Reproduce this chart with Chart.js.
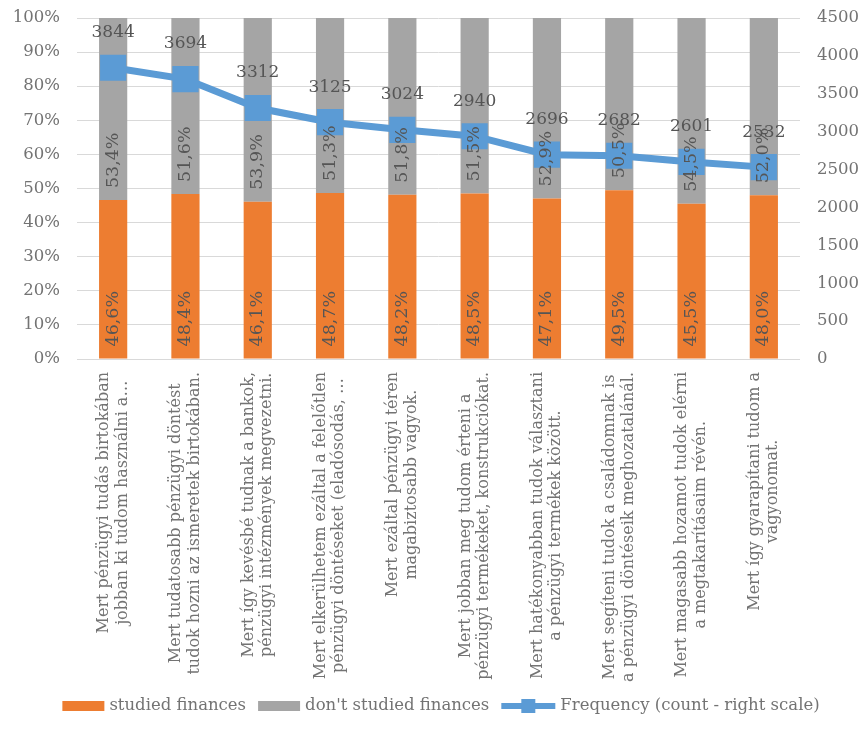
<!DOCTYPE html>
<html>
<head>
<meta charset="utf-8">
<script src="https://cdn.jsdelivr.net/npm/chart.js@4.4.1/dist/chart.umd.min.js"></script>
<style>
  html, body { margin: 0; padding: 0; background: #fff; }
</style>
</head>
<body>
<canvas id="chart" width="862" height="747"></canvas>
<script>
// Category labels (already wrapped into two lines like in the original)
const categories = [
    ['Mert pénzügyi tudás birtokában', 'jobban ki tudom használni a…'],
    ['Mert tudatosabb pénzügyi döntést', 'tudok hozni az ismeretek birtokában.'],
    ['Mert így kevésbé tudnak a bankok,', 'pénzügyi intézmények megvezetni.'],
    ['Mert elkerülhetem ezáltal a felelőtlen', 'pénzügyi döntéseket (eladósodás, …'],
    ['Mert ezáltal pénzügyi téren', 'magabiztosabb vagyok.'],
    ['Mert jobban meg tudom érteni a', 'pénzügyi termékeket, konstrukciókat.'],
    ['Mert hatékonyabban tudok választani', 'a pénzügyi termékek között.'],
    ['Mert segíteni tudok a családomnak is', 'a pénzügyi döntéseik meghozatalánál.'],
    ['Mert magasabb hozamot tudok elérni', 'a megtakarításaim révén.'],
    ['Mert így gyarapítani tudom a', 'vagyonomat.']
];
const studiedFinances = [46.6, 48.4, 46.1, 48.7, 48.2, 48.5, 47.1, 49.5, 45.5, 48.0];
const notStudiedFinances = [53.4, 51.6, 53.9, 51.3, 51.8, 51.5, 52.9, 50.5, 54.5, 52.0];
const frequency = [3844, 3694, 3312, 3125, 3024, 2940, 2696, 2682, 2601, 2532];
const seriesNames = ['studied finances', "don't studied finances", 'Frequency (count - right scale)'];

const FONT = "'DejaVu Serif', serif";
const TEXT = '#737373';
const LABEL = '#555555';
const ORANGE = '#ED7D31';
const GRAY = '#A5A5A5';
const BLUE = '#5B9BD5';

// Draws the value labels, the rotated category labels and the legend
const labelsPlugin = {
    id: 'labelsPlugin',
    afterDatasetsDraw(chart) {
        const ctx = chart.ctx;
        ctx.save();

        // percent labels inside the base of each bar segment
        ctx.font = '17.5px ' + FONT;
        ctx.fillStyle = LABEL;
        [0, 1].forEach(d => {
            const meta = chart.getDatasetMeta(d);
            meta.data.forEach((el, i) => {
                const v = chart.data.datasets[d].data[i];
                ctx.save();
                ctx.translate(el.x, el.base - 12);
                ctx.rotate(-Math.PI / 2);
                ctx.textAlign = 'left';
                ctx.textBaseline = 'middle';
                ctx.fillText(v.toFixed(1).replace('.', ',') + '%', 0, 0);
                ctx.restore();
            });
        });

        // counts above the line points
        ctx.font = '17px ' + FONT;
        ctx.fillStyle = LABEL;
        ctx.textAlign = 'center';
        ctx.textBaseline = 'middle';
        chart.getDatasetMeta(2).data.forEach((el, i) => {
            ctx.fillText(String(frequency[i]), el.x, el.y - 35);
        });
        ctx.restore();
    },
    afterDraw(chart) {
        const ctx = chart.ctx;
        const area = chart.chartArea;
        const x = chart.scales.x;
        ctx.save();

        // rotated, centered category labels
        ctx.font = '16px ' + FONT;
        ctx.fillStyle = TEXT;
        categories.forEach((lines, i) => {
            const cx = x.getPixelForValue(i);
            const longest = Math.max(...lines.map(l => ctx.measureText(l).width));
            const cy = area.bottom + 13 + longest / 2;
            ctx.save();
            ctx.translate(cx, cy);
            ctx.rotate(-Math.PI / 2);
            ctx.textAlign = 'center';
            ctx.textBaseline = 'middle';
            lines.forEach((l, j) => ctx.fillText(l, 0, (j - (lines.length - 1) / 2) * 18.5));
            ctx.restore();
        });

        // legend
        ctx.font = '16.5px ' + FONT;
        const y = 706;
        const items = [
            { name: seriesNames[0], color: ORANGE, line: false, w: 42 },
            { name: seriesNames[1], color: GRAY, line: false, w: 42 },
            { name: seriesNames[2], color: BLUE, line: true, w: 54 }
        ];
        let total = 0;
        items.forEach((it, k) => {
            it.tw = ctx.measureText(it.name).width;
            total += it.w + 5 + it.tw + (k < items.length - 1 ? 12 : 0);
        });
        let lx = 441 - total / 2;
        items.forEach(it => {
            ctx.fillStyle = it.color;
            if (it.line) {
                ctx.fillRect(lx, y - 3, it.w, 6);
                ctx.fillRect(lx + it.w / 2 - 7, y - 7, 14, 14);
            } else {
                ctx.fillRect(lx, y - 5, it.w, 10);
            }
            ctx.fillStyle = TEXT;
            ctx.textAlign = 'left';
            ctx.textBaseline = 'middle';
            ctx.fillText(it.name, lx + it.w + 5, y);
            lx += it.w + 5 + it.tw + 12;
        });
        ctx.restore();
    }
};

// tick padding of the vertical axes also gets added above the plot; drop it
function fixVertical(width) {
    return s => {
        s.width = width;
        s.paddingTop = 0;
        s.paddingBottom = 0;
    };
}

new Chart(document.getElementById('chart'), {
    type: 'bar',
    data: {
        labels: categories,
        datasets: [
            {
                label: seriesNames[0],
                data: studiedFinances,
                backgroundColor: ORANGE,
                stack: 'share',
                yAxisID: 'y',
                categoryPercentage: 1,
                barPercentage: 0.39,
                order: 1
            },
            {
                label: seriesNames[1],
                data: notStudiedFinances,
                backgroundColor: GRAY,
                stack: 'share',
                yAxisID: 'y',
                categoryPercentage: 1,
                barPercentage: 0.39,
                order: 1
            },
            {
                type: 'line',
                label: seriesNames[2],
                data: frequency,
                yAxisID: 'y2',
                borderColor: BLUE,
                backgroundColor: BLUE,
                borderWidth: 7,
                pointStyle: 'rect',
                pointRadius: 18.5,
                pointBorderWidth: 0,
                pointBackgroundColor: BLUE,
                tension: 0,
                order: 0
            }
        ]
    },
    options: {
        responsive: false,
        animation: false,
        layout: { autoPadding: false, padding: { top: 18, left: 0, right: 0, bottom: 0 } },
        plugins: {
            legend: { display: false },
            tooltip: { enabled: false }
        },
        scales: {
            x: {
                stacked: true,
                grid: { display: false },
                border: { display: false },
                ticks: { display: false },
                afterFit: s => { s.height = 388; }
            },
            y: {
                stacked: true,
                position: 'left',
                min: 0,
                max: 100,
                ticks: {
                    stepSize: 10,
                    padding: 17,
                    color: TEXT,
                    font: { family: FONT, size: 16.5 },
                    callback: v => v + '%'
                },
                grid: { color: '#D9D9D9', lineWidth: 1, drawTicks: false },
                border: { display: false },
                afterFit: fixVertical(77)
            },
            y2: {
                position: 'right',
                min: 0,
                max: 4500,
                ticks: {
                    stepSize: 500,
                    padding: 17,
                    color: TEXT,
                    font: { family: FONT, size: 16.5 },
                    callback: v => String(v)
                },
                grid: { display: false, drawTicks: false },
                border: { display: false },
                afterFit: fixVertical(62)
            }
        }
    },
    plugins: [labelsPlugin]
});
</script>
</body>
</html>
